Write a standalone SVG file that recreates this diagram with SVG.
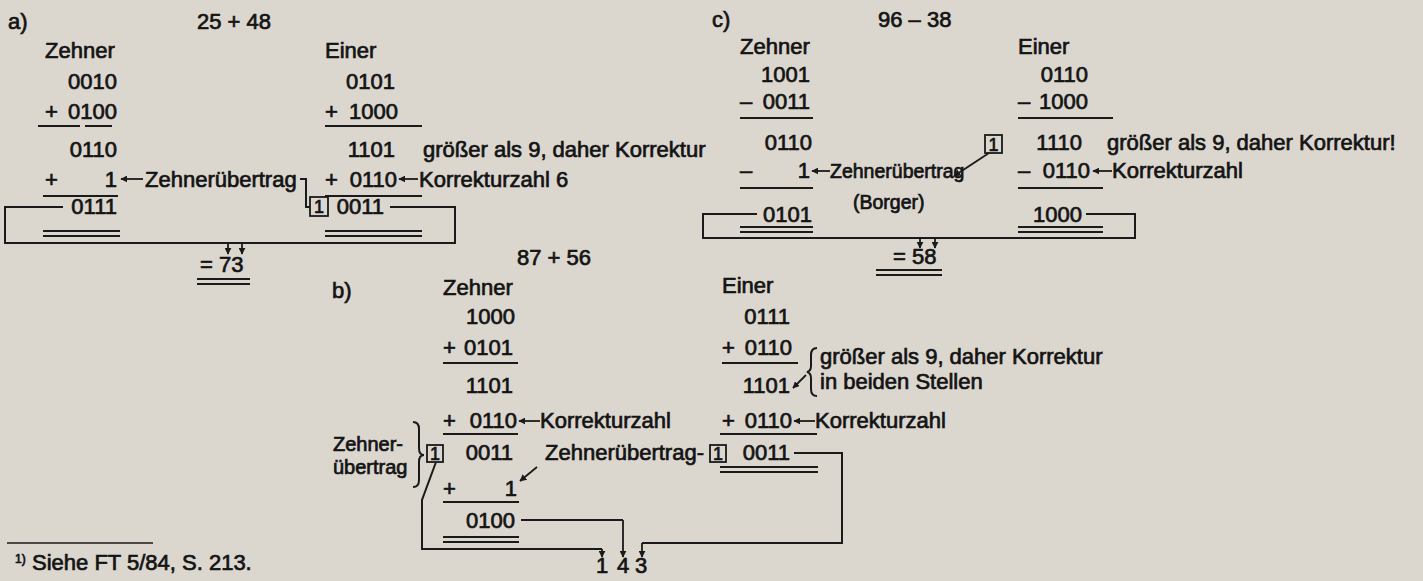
<svg xmlns="http://www.w3.org/2000/svg" width="1423" height="581" viewBox="0 0 1423 581">
<defs>
<marker id="ah" viewBox="0 0 10 10" refX="9" refY="5" markerWidth="7" markerHeight="7" markerUnits="userSpaceOnUse" orient="auto"><path d="M0,0 L10,5 L0,10 z" fill="#1a1a1a"/></marker>
</defs>
<style>
text{font-family:"Liberation Sans",Arial,sans-serif;font-size:22px;fill:#141414;stroke:#141414;stroke-width:0.7px}
.e{text-anchor:end}
.m{text-anchor:middle}
.s19{font-size:19.5px}
.s20{font-size:20px}
.ln{stroke:#1a1a1a;stroke-width:2;fill:none}
.ul{stroke:#1a1a1a;stroke-width:2;fill:none}
.box{fill:none;stroke:#1a1a1a;stroke-width:1.8}
.ar{stroke:#1a1a1a;stroke-width:1.8;fill:none;marker-end:url(#ah)}
</style>
<rect x="0" y="0" width="1423" height="581" fill="#dbd7cf"/>

<g id="sec-a">
<text x="8" y="29">a)</text>
<text x="197" y="29">25 + 48</text>
<text x="45" y="58">Zehner</text>
<text x="325" y="58">Einer</text>
<text class="e" x="117" y="89">0010</text>
<text class="e" x="395" y="89">0101</text>
<text x="45" y="119">+</text><text class="e" x="117" y="119">0100</text>
<text x="325" y="119">+</text><text class="e" x="398" y="119">1000</text>
<text class="e" x="117" y="157">0110</text>
<text class="e" x="395" y="157">1101</text>
<text x="423" y="157">größer als 9, daher Korrektur</text>
<text x="45" y="187">+</text><text class="e" x="117" y="187">1</text>
<text x="145" y="187">Zehnerübertrag</text>
<text x="325" y="187">+</text><text class="e" x="397" y="187">0110</text>
<text x="419" y="187">Korrekturzahl 6</text>
<text class="e" x="117" y="214">0111</text>
<rect class="box" x="310" y="197" width="18" height="19"/>
<text class="m" x="319" y="213" style="font-size:18px">1</text>
<text class="e" x="384" y="214">0011</text>
<text x="200" y="272">= 73</text>
<path class="ul" d="M38 126H80M85 126H112M325 126H422M43 196H118M325 196H422M43 231H120M43 236H120M325 231H422M325 236H422M197 279H250M197 284H250"/>
</g>

<g id="sec-c">
<text x="712" y="27">c)</text>
<text x="878" y="27">96 – 38</text>
<text x="740" y="54">Zehner</text>
<text x="1018" y="54">Einer</text>
<text class="e" x="810" y="82">1001</text>
<text class="e" x="1088" y="82">0110</text>
<text x="740" y="109">–</text><text class="e" x="810" y="109">0011</text>
<text x="1018" y="109">–</text><text class="e" x="1088" y="109">1000</text>
<text class="e" x="812" y="150">0110</text>
<rect class="box" x="985" y="135" width="17" height="18"/>
<text class="m" x="993.5" y="151" style="font-size:18px">1</text>
<text class="e" x="1082" y="150">1110</text>
<text x="1107" y="150">größer als 9, daher Korrektur!</text>
<text x="740" y="178">–</text><text class="e" x="810" y="178">1</text>
<text class="s19" x="830" y="178">Zehnerübertrag</text>
<text x="1018" y="178">–</text><text class="e" x="1090" y="178">0110</text>
<text x="1112" y="178">Korrekturzahl</text>
<text class="s19" x="853" y="209">(Borger)</text>
<text class="e" x="812" y="222">0101</text>
<text class="e" x="1082" y="222">1000</text>
<text x="893" y="264">= 58</text>
<path class="ul" d="M740 118H813M1018 118H1113M740 188H813M1018 188H1103M740 227H813M740 232H813M1018 227H1103M1018 232H1103M876 270H942M876 275H942"/>
</g>

<g id="sec-b">
<text x="517" y="265">87 + 56</text>
<text x="332" y="298">b)</text>
<text x="443" y="295">Zehner</text>
<text x="722" y="293">Einer</text>
<text class="e" x="515" y="324">1000</text>
<text class="e" x="790" y="324">0111</text>
<text x="443" y="355">+</text><text class="e" x="513" y="355">0101</text>
<text x="722" y="355">+</text><text class="e" x="792" y="355">0110</text>
<text class="e" x="513" y="393">1101</text>
<text class="e" x="790" y="393">1101</text>
<text x="820" y="364">größer als 9, daher Korrektur</text>
<text x="820" y="389">in beiden Stellen</text>
<text x="443" y="428">+</text><text class="e" x="517" y="428">0110</text>
<text x="540" y="428">Korrekturzahl</text>
<text x="722" y="428">+</text><text class="e" x="792" y="428">0110</text>
<text x="815" y="428">Korrekturzahl</text>
<text class="s20" x="333" y="451">Zehner-</text>
<text class="s20" x="333" y="474">übertrag</text>
<rect class="box" x="427" y="445" width="16" height="17"/>
<text class="m" x="435" y="460" style="font-size:18px">1</text>
<text class="e" x="513" y="460">0011</text>
<text x="545" y="460">Zehnerübertrag-</text>
<rect class="box" x="710" y="445" width="16" height="17"/>
<text class="m" x="718" y="460" style="font-size:18px">1</text>
<text class="e" x="790" y="460">0011</text>
<text x="443" y="496">+</text><text class="e" x="517" y="496">1</text>
<text class="e" x="515" y="528">0100</text>
<text class="m" x="602" y="573">1</text>
<text class="m" x="623" y="573">4</text>
<text class="m" x="641" y="573">3</text>
<path class="ul" d="M443 363H518M722 363H798M443 434H518M720 434H817M720 467H818M720 472H818M443 502H519M443 537H519M443 542H519"/>
<path class="ln" d="M817 348Q811 348 811 355V366Q811 371 807 372Q811 373 811 378V389Q811 396 817 396"/>
<path class="ln" d="M413 422Q419 422 419 429V448Q419 455 424 455Q419 455 419 462V480Q419 487 413 487"/>
</g>

<g id="footnote">
<path d="M7 543H153" stroke="#1a1a1a" stroke-width="1.6"/>
<text x="15" y="563" style="font-size:12px">1)</text>
<text x="32" y="570">Siehe FT 5/84, S. 213.</text>
</g>

<g id="connectors">
<path class="ar" d="M143 179H121"/>
<path class="ar" d="M418 179H399"/>
<path class="ln" d="M300 179H306V207H310"/>
<path class="ln" d="M63 207H5V243H455V207H390"/>
<path class="ar" d="M228 243V254"/>
<path class="ar" d="M242 243V254"/>

<path class="ar" d="M830 171H812"/>
<path class="ar" d="M1112 171H1093"/>
<path class="ar" d="M989 153L954 176"/>
<path class="ln" d="M757 214H703V238H1135V214H1086"/>
<path class="ar" d="M920 238V248"/>
<path class="ar" d="M935 238V248"/>

<path class="ar" d="M806 375L793 388"/>
<path class="ar" d="M540 421H519"/>
<path class="ar" d="M815 421H794"/>
<path class="ar" d="M537 467L520 481"/>
<path class="ln" d="M794 453H842V543H642"/>
<path class="ar" d="M642 543V557"/>
<path class="ln" d="M521 520H623"/>
<path class="ar" d="M623 520V557"/>
<path class="ln" d="M436 462L422 500V549H602"/>
<path class="ar" d="M602 549V557"/>
</g>
</svg>
